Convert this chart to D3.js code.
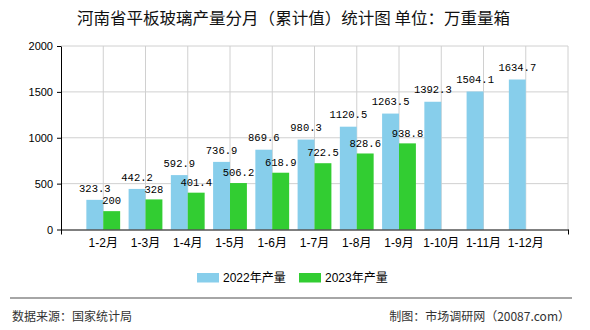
<!DOCTYPE html>
<html>
<head>
<meta charset="utf-8">
<script src="https://cdn.jsdelivr.net/npm/d3@7"></script>
<style>
  html, body { margin: 0; padding: 0; background: #fff; }
  svg { display: block; }
</style>
</head>
<body>
<svg id="chart" width="590" height="330"></svg>
<script>
const categories = ["1-2月","1-3月","1-4月","1-5月","1-6月","1-7月","1-8月","1-9月","1-10月","1-11月","1-12月"];
const values2022 = [323.3, 442.2, 592.9, 736.9, 869.6, 980.3, 1120.5, 1263.5, 1392.3, 1504.1, 1634.7];
const values2023 = [200, 328, 401.4, 506.2, 618.9, 722.5, 828.6, 938.8, null, null, null];
const yTicks = [0, 500, 1000, 1500, 2000];
const seriesNames = ["2022年产量", "2023年产量"];
const seriesColors = ["#87CEEB", "#32CD32"];
const titleText = "河南省平板玻璃产量分月（累计值）统计图 单位：万重量箱";
const sourceText = "数据来源：国家统计局";
const creditText = "制图：市场调研网（20087.com）";

(function () {
const sans = "'Liberation Sans', Arial, 'Noto Sans CJK SC', sans-serif";
const cjk = "'Noto Sans CJK SC', 'Liberation Sans', sans-serif";
const mono = "'Liberation Mono', 'DejaVu Sans Mono', monospace";

const svg = d3.select("#chart");
svg.append("rect").attr("width", 590).attr("height", 330).attr("fill", "#fff");

const pl = 61, pr = 568, pt = 46, pb = 229.5;
const x = d3.scaleLinear().domain([0, categories.length + 1]).range([pl, pr]);
const y = d3.scaleLinear().domain([0, 2000]).range([pb, pt]);
const step = x(1) - x(0);
const bw = step * 0.4;

// Title
svg.append("text")
  .attr("x", 293.5).attr("y", 18.5).attr("dy", "0.35em")
  .attr("text-anchor", "middle")
  .attr("font-family", cjk).attr("font-size", 16)
  .attr("textLength", 433).attr("lengthAdjust", "spacingAndGlyphs")
  .attr("fill", "#111")
  .text(titleText);

// Grid lines
const grid = svg.append("g");
grid.selectAll("line.h").data(yTicks.filter(d => d > 0)).join("line")
  .attr("class", "h")
  .attr("x1", pl).attr("x2", pr)
  .attr("y1", d => y(d)).attr("y2", d => y(d))
  .attr("stroke", "#d0d0d0").attr("stroke-width", 1);
grid.selectAll("line.v").data(d3.range(1, categories.length + 2)).join("line")
  .attr("class", "v")
  .attr("x1", d => x(d)).attr("x2", d => x(d))
  .attr("y1", pt).attr("y2", pb)
  .attr("stroke", "#d0d0d0").attr("stroke-width", 1);

// Bars
svg.append("g").selectAll("rect").data(values2022).join("rect")
  .attr("x", (d, i) => x(i + 1) - bw)
  .attr("y", d => y(d))
  .attr("width", bw)
  .attr("height", d => y(0) - y(d))
  .attr("fill", seriesColors[0]);

const v23 = values2023.map((v, i) => ({v, i})).filter(d => d.v != null);
svg.append("g").selectAll("rect").data(v23).join("rect")
  .attr("x", d => x(d.i + 1))
  .attr("y", d => y(d.v))
  .attr("width", bw)
  .attr("height", d => y(0) - y(d.v))
  .attr("fill", seriesColors[1]);

// Value labels
svg.append("g").selectAll("text").data(values2022).join("text")
  .attr("x", (d, i) => x(i + 1) - bw / 2)
  .attr("y", d => y(d) - 12).attr("dy", "0.35em")
  .attr("text-anchor", "middle")
  .attr("font-family", mono).attr("font-size", 10.5)
  .attr("fill", "#000")
  .text(d => d);
svg.append("g").selectAll("text").data(v23).join("text")
  .attr("x", d => x(d.i + 1) + bw / 2)
  .attr("y", d => y(d.v) - 10.5).attr("dy", "0.35em")
  .attr("text-anchor", "middle")
  .attr("font-family", mono).attr("font-size", 10.5)
  .attr("fill", "#000")
  .text(d => d.v);

// Y axis
const yAxis = svg.append("g").attr("transform", `translate(${pl},0)`)
  .call(d3.axisLeft(y).tickValues(yTicks).tickSize(4).tickSizeOuter(0).tickPadding(4).tickFormat(d3.format("d")));
yAxis.select(".domain").attr("stroke", "#000");
yAxis.selectAll(".tick line").attr("stroke", "#000");
yAxis.selectAll("text").attr("font-family", sans).attr("font-size", 11).attr("fill", "#000");

// X axis
const xAxis = svg.append("g").attr("transform", `translate(0,${pb})`)
  .call(d3.axisBottom(x).tickValues([0, categories.length + 1]).tickSize(5).tickSizeOuter(0).tickFormat(""));
xAxis.select(".domain").attr("stroke", "#000");
xAxis.selectAll(".tick line").attr("stroke", "#000");

svg.append("g").selectAll("text").data(categories).join("text")
  .attr("x", (d, i) => x(i + 1))
  .attr("y", 243).attr("dy", "0.35em")
  .attr("text-anchor", "middle")
  .attr("font-family", sans).attr("font-size", 12)
  .attr("fill", "#000")
  .text(d => d);

// Legend
const legendX = [197, 299];
const lg = svg.append("g");
seriesNames.forEach((name, i) => {
  lg.append("rect").attr("x", legendX[i]).attr("y", 273).attr("width", 22).attr("height", 9.5)
    .attr("fill", seriesColors[i]);
  lg.append("text").attr("x", legendX[i] + 26).attr("y", 277.5).attr("dy", "0.35em")
    .attr("font-family", sans).attr("font-size", 12).attr("fill", "#000")
    .text(name);
});

// Separator
svg.append("line").attr("x1", 10).attr("x2", 572).attr("y1", 298).attr("y2", 298)
  .attr("stroke", "#888").attr("stroke-width", 1.5);

// Footer
svg.append("text").attr("x", 12).attr("y", 316.5).attr("dy", "0.35em")
  .attr("font-family", cjk).attr("font-size", 12).attr("fill", "#333")
  .text(sourceText);
svg.append("text").attr("x", 570).attr("y", 316.5).attr("dy", "0.35em")
  .attr("text-anchor", "end")
  .attr("font-family", cjk).attr("font-size", 12).attr("fill", "#333")
  .text(creditText);
})();
</script>
</body>
</html>
